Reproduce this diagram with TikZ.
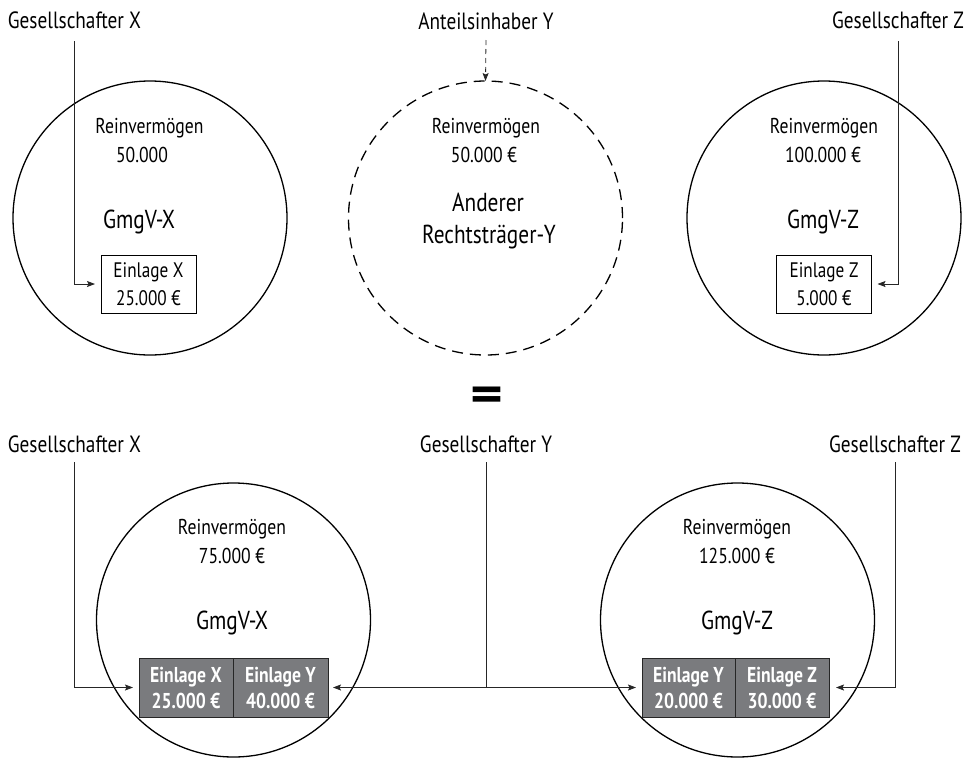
\documentclass[tikz,border=0pt]{standalone}
\usepackage{fontspec}
\setmainfont{PT Sans}[FakeStretch=0.82]
\newfontfamily\widesans{PT Sans}[FakeStretch=1.25]
\usetikzlibrary{arrows.meta}
\definecolor{cellgrey}{RGB}{122,123,126}

\begin{document}
\begin{tikzpicture}[x=1pt,y=-1pt,
  every node/.style={inner sep=0pt, outer sep=0pt},
  ring/.style={draw, circle, line width=1.3pt, minimum size=274pt},
  dashring/.style={ring, dash pattern=on 11pt off 7pt},
  title/.style={anchor=base, font=\fontsize{23.5}{28}\selectfont},
  inner/.style={anchor=base, font=\fontsize{21.5}{25}\selectfont},
  firm/.style={anchor=base, font=\fontsize{26}{30}\selectfont},
  paybox/.style={draw, line width=0.8pt, minimum width=95pt, minimum height=58pt,
    align=center, font=\fontsize{21}{28}\selectfont},
  paycell/.style={draw=black!85, fill=cellgrey, line width=0.8pt, minimum height=59pt,
    align=center, text=white, font=\bfseries\fontsize{21.5}{26}\selectfont},
  conn/.style={line width=0.8pt, black!85},
  tip/.style={-{Stealth[length=8pt, width=6pt, inset=1.5pt]}},
]
\useasboundingbox (0,0) rectangle (970,761);

% ---------- before the merger ----------
\node[ring]     (cx) at (150,218)   {};
\node[dashring] (cy) at (485.5,218) {};
\node[ring]     (cz) at (824,218)   {};

\node[title] (tx) at (74.5,28) {Gesellschafter X};
\node[title] (ty) at (486,29)  {Anteilsinhaber Y};
\node[title] (tz) at (898,28)  {Gesellschafter Z};

\node[inner] (rx) at (149.5,133) {Reinvermögen};
\node[inner] (vx) at (142,162)   {50.000};
\node[firm]  (fx) at (139,228)   {GmgV-X};
\node[paybox] (bx) at (148.5,284) {Einlage X\\25.000 €};

\node[inner] (ry) at (486,133) {Reinvermögen};
\node[inner] (vy) at (484,162) {50.000 €};
\node[firm]  (ay) at (488,211) {Anderer};
\node[firm]  (ky) at (489,243) {Rechtsträger-Y};

\node[inner] (rz) at (824,133) {Reinvermögen};
\node[inner] (vz) at (823,162) {100.000 €};
\node[firm]  (fz) at (823,228) {GmgV-Z};
\node[paybox] (bz) at (824,284) {Einlage Z\\5.000 €};

\draw[conn, tip, shorten >=6pt] ([yshift=-13pt]tx.base) |- (bx.west);
\draw[conn, tip, shorten >=6pt] ([yshift=-13pt]tz.base) |- (bz.east);
\draw[conn, tip, dash pattern=on 5pt off 4pt] ([yshift=-11pt]ty.base) -- (cy.north);

% ---------- equals sign ----------
\node[font=\widesans\bfseries\fontsize{50}{50}\selectfont] (eq) at (486.5,399.5) {=};

% ---------- after the merger ----------
\node[ring] (dx) at (233.5,620) {};
\node[ring] (dz) at (737.5,620) {};

\node[title] (ux) at (74.5,452) {Gesellschafter X};
\node[title] (uy) at (486,452)  {Gesellschafter Y};
\node[title] (uz) at (895,452)  {Gesellschafter Z};

\node[inner] (sx) at (232,534) {Reinvermögen};
\node[inner] (wx) at (232,563) {75.000 €};
\node[firm]  (gx) at (232,629) {GmgV-X};
\node[paycell, minimum width=94pt] (ex1) at (186,687.5)   {Einlage X\\25.000 €};
\node[paycell, minimum width=95pt] (ex2) at (280.5,687.5) {Einlage Y\\40.000 €};

\node[inner] (sz) at (737,534) {Reinvermögen};
\node[inner] (wz) at (737,563) {125.000 €};
\node[firm]  (gz) at (737,629) {GmgV-Z};
\node[paycell, minimum width=93pt] (ez1) at (688.5,687.5) {Einlage Y\\20.000 €};
\node[paycell, minimum width=94pt] (ez2) at (782,687.5)   {Einlage Z\\30.000 €};

\draw[conn, tip, shorten >=6pt] ([yshift=-10pt]ux.base) |- (ex1.west);
\draw[conn, tip, shorten >=7pt] ([yshift=-10pt]uz.base) |- (ez2.east);
\coordinate (yj) at (uy.base |- ex2.east);
\draw[conn] ([yshift=-10pt]uy.base) -- (yj);
\draw[conn, tip, shorten >=5pt] (yj) -- (ex2.east);
\draw[conn, tip, shorten >=6pt] (yj) -- (ez1.west);
\end{tikzpicture}
\end{document}
